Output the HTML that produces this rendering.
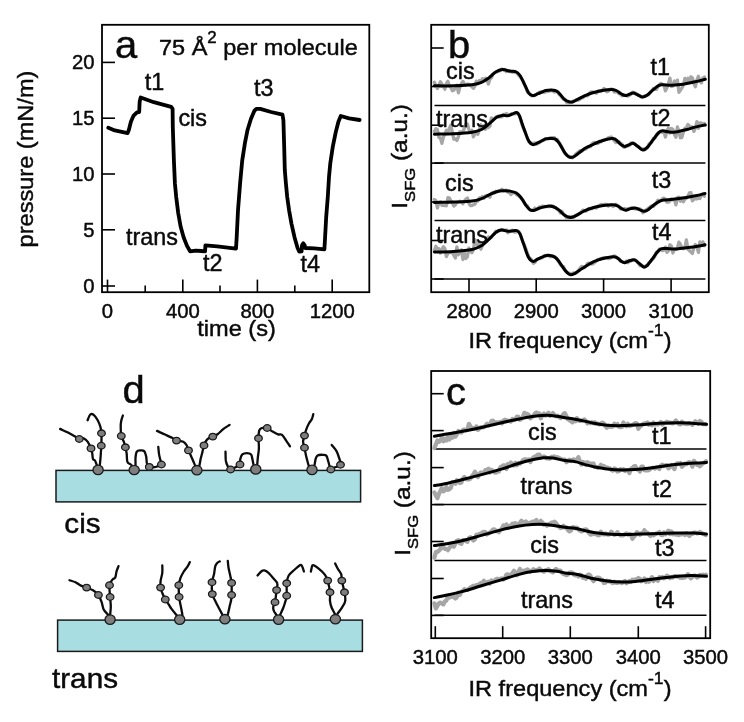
<!DOCTYPE html>
<html><head><meta charset="utf-8"><title>figure</title>
<style>
html,body{margin:0;padding:0;background:#fff;}
svg{display:block;}
text{font-family:"Liberation Sans",sans-serif;fill:#0a0a0a;stroke:#0a0a0a;stroke-width:0.45px;}
.tk{font-size:20.3px;}
.lb{font-size:23.4px;}
.ax{font-size:22.8px;}
.ay{font-size:22.8px;}
.ti{font-size:22.3px;}
.dl{font-size:28px;}
.pn{font-size:38px;}
</style></head>
<body>
<svg width="744" height="722" viewBox="0 0 744 722">
<rect width="744" height="722" fill="#fff"/>
<g id="panel-a">
<rect x="102" y="24.8" width="267.3" height="267.4" fill="none" stroke="#000" stroke-width="1.8"/>
<line x1="102" y1="62.4" x2="115" y2="62.4" stroke="#000" stroke-width="1.6"/>
<text x="94.5" y="69.4" text-anchor="end" class="tk">20</text>
<line x1="102" y1="118.2" x2="115" y2="118.2" stroke="#000" stroke-width="1.6"/>
<text x="94.5" y="125.2" text-anchor="end" class="tk">15</text>
<line x1="102" y1="174" x2="115" y2="174" stroke="#000" stroke-width="1.6"/>
<text x="94.5" y="181.0" text-anchor="end" class="tk">10</text>
<line x1="102" y1="229.8" x2="115" y2="229.8" stroke="#000" stroke-width="1.6"/>
<text x="94.5" y="236.8" text-anchor="end" class="tk">5</text>
<line x1="102" y1="286" x2="115" y2="286" stroke="#000" stroke-width="1.6"/>
<text x="94.5" y="293.0" text-anchor="end" class="tk">0</text>
<line x1="107.5" y1="292.2" x2="107.5" y2="279.6" stroke="#000" stroke-width="1.6"/>
<text x="107.5" y="318" text-anchor="middle" class="tk">0</text>
<line x1="145.2" y1="292.2" x2="145.2" y2="285.5" stroke="#000" stroke-width="1.6"/>
<line x1="182.8" y1="292.2" x2="182.8" y2="279.6" stroke="#000" stroke-width="1.6"/>
<text x="182.8" y="318" text-anchor="middle" class="tk">400</text>
<line x1="220" y1="292.2" x2="220" y2="285.5" stroke="#000" stroke-width="1.6"/>
<line x1="257.4" y1="292.2" x2="257.4" y2="279.6" stroke="#000" stroke-width="1.6"/>
<text x="257.4" y="318" text-anchor="middle" class="tk">800</text>
<line x1="294.8" y1="292.2" x2="294.8" y2="285.5" stroke="#000" stroke-width="1.6"/>
<line x1="332.2" y1="292.2" x2="332.2" y2="279.6" stroke="#000" stroke-width="1.6"/>
<text x="332.2" y="318" text-anchor="middle" class="tk">1200</text>
<text transform="translate(236.5,336.2) scale(1.035,1)" text-anchor="middle" class="ax">time (s)</text>
<text transform="translate(33,159) rotate(-90) scale(1.035,1)" text-anchor="middle" class="ax">pressure (mN/m)</text>
<text transform="translate(115,58) scale(1.05,1)" class="pn">a</text>
<text transform="translate(159,55) scale(1.055,1)" class="ti">75 Å<tspan dy="-12.5" font-size="16">2</tspan><tspan dy="12.5"> per molecule</tspan></text>
<text x="144.8" y="89.6" class="lb">t1</text>
<text x="178.4" y="126" class="lb">cis</text>
<text x="254" y="96" class="lb">t3</text>
<text x="126" y="245" class="lb">trans</text>
<text x="203" y="270.7" class="lb">t2</text>
<text x="300.5" y="272.2" class="lb">t4</text>
<path d="M108.3,127.7 L114.8,130.4 L127.6,133.1 L128.9,129.7 L130.9,121.7 L133.6,115.6 L137,112.3 L139.2,112 L139.4,106.9 L139.7,101.5 L140.7,97.5 L153.8,102.2 L171.2,106.9 L172.6,108.9 L172.8,127 L173.9,160.6 L174.9,183.4 L176.2,196.9 L178.2,213 L180.6,226.5 L183.6,237.2 L187,245.9 L190.1,251.3 L195.7,250.6 L201.1,251 L205.1,251.3 L205.4,245.3 L217.2,246.3 L236,248.6 L236.7,237.2 L238,210.3 L240.1,183.4 L242.2,160.6 L244.9,143.2 L247.6,129.7 L250.9,119 L254.3,110.9 L256.3,108.9 L260.3,108.9 L271.1,112 L282.5,114.7 L283.4,120.3 L284.2,147.2 L284.8,170 L285.9,183.4 L287.2,196.9 L289.1,210.3 L291.5,223.8 L294.5,237.2 L297.6,248 L299.3,251.7 L301.6,251.3 L302,245.3 L303.3,243.3 L304.7,245.3 L305.2,248 L314.4,248.4 L324.4,249.3 L325.1,237.2 L326.2,217 L327.8,196.9 L329,177 L330.3,163.3 L332.7,147.2 L335.7,132.4 L338.4,121.7 L340.8,116 L349.1,118.3 L359.6,120" fill="none" stroke="#000" stroke-width="3.8" stroke-linejoin="round" stroke-linecap="round"/>
</g>
<g id="panel-b">
<rect x="431.2" y="24.8" width="277.6" height="267.4" fill="none" stroke="#000" stroke-width="1.8"/>
<line x1="434.5" y1="105.5" x2="705.4" y2="105.5" stroke="#000" stroke-width="1.5"/>
<line x1="434.5" y1="163.1" x2="705.4" y2="163.1" stroke="#000" stroke-width="1.5"/>
<line x1="434.5" y1="220.6" x2="705.4" y2="220.6" stroke="#000" stroke-width="1.5"/>
<line x1="434.5" y1="279" x2="705.4" y2="279" stroke="#000" stroke-width="1.5"/>
<line x1="431.2" y1="48.0" x2="443.7" y2="48.0" stroke="#000" stroke-width="1.6"/>
<line x1="431.2" y1="86.5" x2="443.7" y2="86.5" stroke="#000" stroke-width="1.6"/>
<line x1="431.2" y1="125.2" x2="443.7" y2="125.2" stroke="#000" stroke-width="1.6"/>
<line x1="431.2" y1="163.1" x2="443.7" y2="163.1" stroke="#000" stroke-width="1.6"/>
<line x1="431.2" y1="202.0" x2="443.7" y2="202.0" stroke="#000" stroke-width="1.6"/>
<line x1="431.2" y1="240.5" x2="443.7" y2="240.5" stroke="#000" stroke-width="1.6"/>
<line x1="431.2" y1="279.0" x2="443.7" y2="279.0" stroke="#000" stroke-width="1.6"/>
<line x1="469" y1="292.2" x2="469" y2="278.8" stroke="#000" stroke-width="1.6"/>
<text x="469" y="317.5" text-anchor="middle" class="tk">2800</text>
<line x1="536.2" y1="292.2" x2="536.2" y2="278.8" stroke="#000" stroke-width="1.6"/>
<text x="536.2" y="317.5" text-anchor="middle" class="tk">2900</text>
<line x1="603.6" y1="292.2" x2="603.6" y2="278.8" stroke="#000" stroke-width="1.6"/>
<text x="603.6" y="317.5" text-anchor="middle" class="tk">3000</text>
<line x1="671.1" y1="292.2" x2="671.1" y2="278.8" stroke="#000" stroke-width="1.6"/>
<text x="671.1" y="317.5" text-anchor="middle" class="tk">3100</text>
<text transform="translate(570,347.7) scale(1.035,1)" text-anchor="middle" class="ax">IR frequency (cm<tspan dy="-11.5" font-size="17">-1</tspan><tspan dy="11.5">)</tspan></text>
<text transform="translate(407.3,156.4) rotate(-90) scale(1.07,1)" text-anchor="middle" class="ay">I<tspan dy="8" font-size="15.5">SFG</tspan><tspan dy="-8"> (a.u.)</tspan></text>
<text transform="translate(448,58) scale(1.05,1)" class="pn">b</text>
<path d="M434.4,82.3 L435.9,85.7 L437.4,88.6 L438.9,85.3 L440.4,81.8 L441.9,84.2 L443.4,86.6 L444.9,89.2 L446.4,83.5 L447.9,81.3 L449.4,86.2 L450.9,87.3 L452.4,90.8 L453.9,90.3 L455.4,87 L456.9,85.3 L458.4,92.8 L459.9,87.1 L461.4,83.7 L462.9,81.4 L464.4,84.1 L465.9,85.1 L467.4,84 L468.9,84.4 L470.4,85.4 L471.9,86.9 L473.4,88.3 L474.9,86 L476.4,81.1 L477.9,83.7 L479.4,80.5 L480.9,81.4 L482.4,78.8 L483.9,79.8 L485.4,78.2 L486.9,78.8 L488.4,84 L489.9,79 L491.4,77.9 L492.9,74.1 L494.4,72.8 L495.9,72.3 L497.4,71.5 L498.9,71.2 L500.4,70.5 L501.9,69 L503.4,70 L504.9,69.5 L506.4,71.7 L507.9,70.8 L509.4,71.6 L510.9,71.5 L512.4,72.3 L513.9,71.5 L515.4,72.6 L516.9,72.7 L518.4,75.1 L519.9,76.4 L521.4,78.6 L522.9,80.7 L524.4,84.7 L525.9,87.8 L527.4,91.9 L528.9,93.2 L530.4,94.7 L531.9,95.8 L533.4,95.7 L534.9,95.1 L536.4,94.5 L537.9,93.4 L539.4,92.2 L540.9,91.8 L542.4,92.1 L543.9,92.5 L545.4,91.8 L546.9,91.7 L548.4,91.3 L549.9,91 L551.4,90.4 L552.9,91 L554.4,92.1 L555.9,91.4 L557.4,91.5 L558.9,94.3 L560.4,95.4 L561.9,97.5 L563.4,99.3 L564.9,99.1 L566.4,102.2 L567.9,103.2 L569.4,102.7 L570.9,102.7 L572.4,102.2 L573.9,100.7 L575.4,100.2 L576.9,100 L578.4,100 L579.9,99.2 L581.4,97.8 L582.9,97.9 L584.4,95.8 L585.9,95.9 L587.4,95.9 L588.9,94.3 L590.4,92.2 L591.9,91.9 L593.4,92.4 L594.9,92.6 L596.4,93.3 L597.9,91.2 L599.4,91 L600.9,91.3 L602.4,90.5 L603.9,88.4 L605.4,90.1 L606.9,91.8 L608.4,91.2 L609.9,89.4 L611.4,89 L612.9,89.8 L614.4,92.1 L615.9,91.6 L617.4,91.8 L618.9,93.7 L620.4,93.7 L621.9,95.8 L623.4,94.8 L624.9,95.1 L626.4,95.7 L627.9,96.1 L629.4,95.3 L630.9,94.4 L632.4,92.1 L633.9,92.4 L635.4,93.1 L636.9,93.9 L638.4,95.4 L639.9,95.6 L641.4,97 L642.9,97 L644.4,96 L645.9,95.6 L647.4,95.3 L648.9,94.4 L650.4,92.1 L651.9,90.7 L653.4,88.4 L654.9,89.3 L656.4,89.4 L657.9,86.7 L659.4,85 L660.9,83.4 L662.4,84.4 L663.9,85 L665.4,90.9 L666.9,87.7 L668.4,83.9 L669.9,78.1 L671.4,86.5 L672.9,86.1 L674.4,81 L675.9,84 L677.4,80.1 L678.9,92.4 L680.4,90.3 L681.9,87.9 L683.4,85 L684.9,78.4 L686.4,81.3 L687.9,78.3 L689.4,82.8 L690.9,76.8 L692.4,77.9 L693.9,83.8 L695.4,86.7 L696.9,79.9 L698.4,76.3 L699.9,81.4 L701.4,82.8 L702.9,78.1 L704.4,77" fill="none" stroke="#a6a6a6" stroke-width="3.3" stroke-linejoin="round" stroke-linecap="round"/>
<path d="M434.4,85.8 C437.5,85.8 447,86 453.3,85.8 C459.6,85.6 467.4,85.3 472.1,84.7 C476.8,84.1 478.7,83.6 481.5,82.4 C484.3,81.2 486.7,79.4 489.1,77.7 C491.5,76 493.5,73.3 495.7,72 C497.9,70.7 499.9,69.8 502.3,69.6 C504.7,69.4 507.5,70.7 509.8,71.1 C512.1,71.5 514.7,71.2 516.4,72 C518.1,72.8 518.8,73.6 520.2,75.8 C521.6,78 523.5,82.4 524.9,85.2 C526.3,88 527.4,91.1 528.6,92.8 C529.9,94.5 530.8,95.4 532.4,95.6 C534,95.8 535.9,94.5 538.1,93.7 C540.3,92.9 543.4,91.1 545.6,90.5 C547.8,89.9 549.7,89.9 551.3,89.9 C552.9,89.9 553.8,90 555,90.5 C556.2,91 557.2,91.3 558.8,92.8 C560.4,94.3 562.7,97.9 564.4,99.4 C566.1,100.9 567.7,101.4 569.1,101.8 C570.5,102.2 571.5,102.2 572.9,101.8 C574.3,101.4 575.6,100.4 577.6,99.4 C579.6,98.4 582.6,96.7 585.1,95.6 C587.6,94.5 589.9,93.6 592.7,92.8 C595.5,92 599,91.1 602.1,90.5 C605.2,89.9 609.1,89.4 611.5,89.4 C613.9,89.4 614.6,89.8 616.2,90.5 C617.8,91.2 619.5,92.9 621,93.7 C622.5,94.5 623.7,95.5 625.1,95.6 C626.5,95.7 628,94.7 629.4,94.3 C630.8,93.9 631.8,93 633.2,93.1 C634.6,93.2 636.3,94.4 637.9,95 C639.5,95.6 641,96.9 642.6,96.9 C644.2,96.9 645.6,96.2 647.3,95 C649,93.8 651.1,91.5 653,89.9 C654.9,88.3 657,86.4 658.6,85.6 C660.2,84.8 660.2,84.9 662.4,84.8 C664.6,84.7 668.3,85.3 671.8,85.2 C675.2,85.1 679.2,84.9 683.1,84.3 C687,83.7 691.3,82.6 695,81.8 C698.7,81 703.6,79.7 705.3,79.3" fill="none" stroke="#000" stroke-width="3.0" stroke-linejoin="round" stroke-linecap="round"/>
<path d="M434.4,131.5 L435.9,128.6 L437.4,129.5 L438.9,137.4 L440.4,137.9 L441.9,143.4 L443.4,136.9 L444.9,134.5 L446.4,130.3 L447.9,132.2 L449.4,128.2 L450.9,124.9 L452.4,133.4 L453.9,139.2 L455.4,138.8 L456.9,140.5 L458.4,136.8 L459.9,131.7 L461.4,132.9 L462.9,131.5 L464.4,128.1 L465.9,124.5 L467.4,124 L468.9,129.5 L470.4,132 L471.9,130.3 L473.4,136.8 L474.9,133.9 L476.4,133.3 L477.9,134.3 L479.4,129.4 L480.9,124.7 L482.4,128.9 L483.9,126.1 L485.4,129.2 L486.9,127.3 L488.4,127.5 L489.9,126.1 L491.4,117.8 L492.9,119.7 L494.4,118.4 L495.9,117 L497.4,116.4 L498.9,116.9 L500.4,116.9 L501.9,116.7 L503.4,114.5 L504.9,114.7 L506.4,113.4 L507.9,114.8 L509.4,115.3 L510.9,114 L512.4,114 L513.9,113.6 L515.4,113.8 L516.9,112.7 L518.4,113.8 L519.9,116.5 L521.4,122.7 L522.9,127.1 L524.4,130.2 L525.9,134.1 L527.4,137.9 L528.9,141.3 L530.4,142.3 L531.9,143.5 L533.4,143.3 L534.9,142.9 L536.4,144.3 L537.9,143.6 L539.4,142.4 L540.9,141.2 L542.4,140.6 L543.9,140.1 L545.4,138.6 L546.9,138.8 L548.4,138.8 L549.9,137.9 L551.4,137.7 L552.9,137.6 L554.4,137.6 L555.9,140.1 L557.4,139.5 L558.9,142 L560.4,144.6 L561.9,147.1 L563.4,150.2 L564.9,153.5 L566.4,154.7 L567.9,156 L569.4,156.4 L570.9,156.7 L572.4,157.8 L573.9,156.4 L575.4,154.5 L576.9,153.1 L578.4,152 L579.9,150.6 L581.4,151.4 L582.9,150.4 L584.4,148.8 L585.9,149.1 L587.4,147.1 L588.9,147 L590.4,146.6 L591.9,144 L593.4,142.7 L594.9,142.4 L596.4,143.4 L597.9,143.6 L599.4,141.3 L600.9,141.9 L602.4,140.6 L603.9,140 L605.4,139.4 L606.9,139.2 L608.4,137.6 L609.9,137.5 L611.4,137 L612.9,138.7 L614.4,140.8 L615.9,142.6 L617.4,142 L618.9,141.5 L620.4,143.3 L621.9,144 L623.4,147.1 L624.9,147.3 L626.4,145.5 L627.9,145.9 L629.4,145.3 L630.9,143 L632.4,142.8 L633.9,143.3 L635.4,144.6 L636.9,145.9 L638.4,146.6 L639.9,148 L641.4,148.6 L642.9,148.9 L644.4,149.9 L645.9,148.8 L647.4,147.8 L648.9,144.2 L650.4,142.8 L651.9,141.8 L653.4,138.5 L654.9,138 L656.4,135.2 L657.9,134 L659.4,132.3 L660.9,131.8 L662.4,132.4 L663.9,131.1 L665.4,137 L666.9,130.7 L668.4,128.1 L669.9,133.1 L671.4,128.5 L672.9,129.4 L674.4,134.4 L675.9,137.2 L677.4,127 L678.9,131.5 L680.4,137.9 L681.9,137.4 L683.4,131.8 L684.9,128.3 L686.4,127.9 L687.9,124.4 L689.4,126.1 L690.9,126.7 L692.4,126.8 L693.9,131.4 L695.4,127.6 L696.9,121.6 L698.4,128.4 L699.9,122.9 L701.4,123 L702.9,124 L704.4,123.4" fill="none" stroke="#a6a6a6" stroke-width="3.3" stroke-linejoin="round" stroke-linecap="round"/>
<path d="M434.4,134.2 C437.5,134.1 447,134.1 453.3,133.8 C459.6,133.5 467.4,133 472.1,132.3 C476.8,131.6 478.7,130.9 481.5,129.5 C484.3,128.1 486.6,125.9 489.1,123.9 C491.6,121.9 494.4,118.7 496.6,117.3 C498.8,115.9 500.4,115.7 502.3,115.4 C504.2,115.1 506.2,116 507.9,115.7 C509.6,115.5 511.2,114.4 512.6,113.9 C514,113.4 515.3,112.2 516.4,112.5 C517.5,112.8 518,112.7 519.2,115.4 C520.5,118.1 522.3,124.4 523.9,128.6 C525.5,132.8 527.1,138.1 528.6,140.8 C530.1,143.5 531.2,144.3 532.8,144.6 C534.4,144.9 536,143.6 538.1,142.7 C540.2,141.8 543.6,139.6 545.6,138.9 C547.6,138.2 548.7,138.4 550.3,138.4 C551.9,138.4 553.6,138.2 555,138.9 C556.4,139.6 557.2,140.5 558.8,142.7 C560.4,144.9 562.8,149.8 564.4,152.1 C566,154.4 567.2,156 568.6,156.8 C570,157.7 571.4,157.7 572.9,157.2 C574.4,156.7 575.6,155.5 577.6,154 C579.6,152.5 582.6,149.9 585.1,148.3 C587.6,146.7 589.9,145.8 592.7,144.6 C595.5,143.3 599,141.8 602.1,140.8 C605.2,139.8 609.3,138.8 611.5,138.5 C613.7,138.2 613.7,138.3 615.3,139.3 C616.9,140.3 619.4,143.4 621,144.6 C622.6,145.8 623.3,146.5 624.7,146.5 C626.1,146.5 628,145.1 629.4,144.6 C630.8,144.1 631.8,143 633.2,143.3 C634.6,143.6 636.3,145.4 637.9,146.5 C639.5,147.6 641,149.8 642.6,149.9 C644.2,150.1 645.6,149.1 647.3,147.4 C649,145.7 651.1,142.4 653,139.9 C654.9,137.4 657,134.2 658.6,132.7 C660.2,131.2 660.8,131 662.4,130.8 C664,130.7 665.9,131.6 668.1,131.8 C670.3,132 672.5,132.4 675.6,132 C678.7,131.6 683.7,130.3 686.9,129.5 C690.1,128.7 691.9,127.8 695,127.1 C698.1,126.3 703.6,125.3 705.3,125" fill="none" stroke="#000" stroke-width="3.0" stroke-linejoin="round" stroke-linecap="round"/>
<path d="M434.4,199.5 L435.9,200.6 L437.4,208 L438.9,202.5 L440.4,202 L441.9,205.4 L443.4,205.4 L444.9,205.5 L446.4,205.8 L447.9,197.7 L449.4,198.1 L450.9,201 L452.4,203.1 L453.9,206.1 L455.4,204.7 L456.9,202.1 L458.4,202 L459.9,201.2 L461.4,202.1 L462.9,203.7 L464.4,201.2 L465.9,199 L467.4,198 L468.9,203.3 L470.4,205.6 L471.9,205.5 L473.4,204.8 L474.9,204.2 L476.4,201.3 L477.9,201.2 L479.4,197.8 L480.9,197.9 L482.4,196.6 L483.9,198.2 L485.4,195.9 L486.9,195.5 L488.4,195.8 L489.9,197.2 L491.4,193.4 L492.9,192.3 L494.4,193 L495.9,191.2 L497.4,191.7 L498.9,190.9 L500.4,190.8 L501.9,189.2 L503.4,190.8 L504.9,190.4 L506.4,190.1 L507.9,192.4 L509.4,192.1 L510.9,194.6 L512.4,193.3 L513.9,192.5 L515.4,192.9 L516.9,194.9 L518.4,195.5 L519.9,197 L521.4,198.8 L522.9,200 L524.4,202.9 L525.9,204.9 L527.4,205.8 L528.9,208.9 L530.4,210.3 L531.9,210.4 L533.4,209.8 L534.9,208 L536.4,209.1 L537.9,208.6 L539.4,206.8 L540.9,207.2 L542.4,206 L543.9,206.5 L545.4,206.6 L546.9,206.6 L548.4,206.5 L549.9,206.6 L551.4,205.7 L552.9,206.1 L554.4,206.8 L555.9,207.9 L557.4,209.2 L558.9,210.5 L560.4,212.9 L561.9,211.2 L563.4,213.9 L564.9,215.3 L566.4,217.9 L567.9,218.1 L569.4,216.5 L570.9,217.4 L572.4,216.5 L573.9,217.2 L575.4,215.4 L576.9,214.8 L578.4,214.1 L579.9,213.3 L581.4,212.1 L582.9,210.1 L584.4,210.7 L585.9,211.1 L587.4,210 L588.9,208.5 L590.4,208.6 L591.9,208.6 L593.4,207.7 L594.9,207.3 L596.4,208.1 L597.9,206.2 L599.4,205.8 L600.9,204.3 L602.4,204.6 L603.9,204.5 L605.4,204.3 L606.9,204.3 L608.4,206.2 L609.9,205.2 L611.4,204.8 L612.9,206.5 L614.4,205.7 L615.9,204.2 L617.4,205.7 L618.9,206 L620.4,208.9 L621.9,208.2 L623.4,208.8 L624.9,208.4 L626.4,209.7 L627.9,208.6 L629.4,208.6 L630.9,208.1 L632.4,207.7 L633.9,208.7 L635.4,209 L636.9,209 L638.4,208.7 L639.9,208.8 L641.4,210.2 L642.9,212.7 L644.4,211.5 L645.9,210 L647.4,209.1 L648.9,207.9 L650.4,206.6 L651.9,206 L653.4,206.3 L654.9,204.6 L656.4,202.8 L657.9,200.1 L659.4,200.9 L660.9,200.6 L662.4,198.8 L663.9,198.1 L665.4,199.1 L666.9,202.2 L668.4,202.2 L669.9,200.9 L671.4,199 L672.9,199.9 L674.4,199.2 L675.9,204.8 L677.4,197.6 L678.9,197.1 L680.4,201.2 L681.9,198.3 L683.4,201.8 L684.9,198.9 L686.4,198.2 L687.9,196.4 L689.4,192.9 L690.9,192.6 L692.4,200.9 L693.9,199.4 L695.4,198.6 L696.9,199 L698.4,197.9 L699.9,198.5 L701.4,195 L702.9,193.6 L704.4,196.2" fill="none" stroke="#a6a6a6" stroke-width="3.3" stroke-linejoin="round" stroke-linecap="round"/>
<path d="M434.4,202.4 C437.5,202.3 447,202.2 453.3,202 C459.6,201.8 467.4,201.7 472.1,201.1 C476.8,200.5 478.7,199.6 481.5,198.6 C484.3,197.6 486.6,196.1 489.1,194.9 C491.6,193.8 494.4,192.4 496.6,191.7 C498.8,191 500.1,190.8 502.3,190.7 C504.5,190.6 507.5,190.7 509.8,191.1 C512.1,191.5 514.5,191.9 516.4,193 C518.3,194.1 519.5,195.7 521.1,197.7 C522.7,199.7 524.4,203.2 525.8,205.2 C527.2,207.1 528.4,208.5 529.6,209.4 C530.9,210.3 531.6,210.7 533.3,210.5 C535,210.3 537.5,208.7 539.9,208 C542.3,207.3 545.3,206.4 547.5,206.2 C549.7,206 551.2,206.1 553.1,206.7 C555,207.3 556.8,208.4 558.8,209.9 C560.8,211.4 563.1,214.3 565,215.6 C566.9,216.9 568.3,217.5 570,217.6 C571.7,217.7 572.6,217.3 575,216.2 C577.4,215.1 581.3,212.3 584.4,210.9 C587.5,209.5 590.6,208.4 593.8,207.5 C596.9,206.6 600.1,206.1 603.3,205.6 C606.4,205.1 610.4,204.7 612.7,204.7 C615.1,204.7 615.8,205.1 617.4,205.8 C619,206.5 620.7,208.2 622.1,209 C623.5,209.8 624.5,210.4 625.9,210.3 C627.3,210.2 629,209 630.6,208.6 C632.2,208.2 633.7,207.8 635.3,208 C636.9,208.2 638.5,209.3 640,209.9 C641.5,210.5 642.9,211.4 644.3,211.3 C645.7,211.2 646.9,210.5 648.5,209.4 C650.1,208.3 652.2,206.2 654.1,204.8 C656,203.4 658.2,201.9 659.8,201.1 C661.4,200.3 661.4,200.4 663.6,200.1 C665.8,199.8 669.5,199.6 673,199.2 C676.5,198.8 680.5,198.3 684.3,197.7 C688.1,197.1 692.1,196.5 695.6,195.8 C699.1,195.1 703.4,193.9 705,193.5" fill="none" stroke="#000" stroke-width="3.0" stroke-linejoin="round" stroke-linecap="round"/>
<path d="M434.4,250.6 L435.9,246.3 L437.4,249 L438.9,248.7 L440.4,253.1 L441.9,249.4 L443.4,246.8 L444.9,248.6 L446.4,256.6 L447.9,253.1 L449.4,252.7 L450.9,251.9 L452.4,252.7 L453.9,255.4 L455.4,258 L456.9,247 L458.4,254.8 L459.9,252.1 L461.4,249.8 L462.9,259.5 L464.4,252.8 L465.9,258.6 L467.4,256.7 L468.9,248.2 L470.4,251 L471.9,252.8 L473.4,249.7 L474.9,239.6 L476.4,243.8 L477.9,245.3 L479.4,243.2 L480.9,249.2 L482.4,245.5 L483.9,242.9 L485.4,241.3 L486.9,238.8 L488.4,237 L489.9,237.6 L491.4,237.3 L492.9,235.1 L494.4,233.6 L495.9,231.2 L497.4,231.8 L498.9,230.5 L500.4,230.4 L501.9,229.5 L503.4,229.8 L504.9,230.6 L506.4,229.9 L507.9,232.8 L509.4,231.6 L510.9,231.1 L512.4,230.3 L513.9,231.8 L515.4,232.2 L516.9,231.5 L518.4,231.3 L519.9,233.3 L521.4,238 L522.9,241.7 L524.4,245.1 L525.9,249 L527.4,253.4 L528.9,257.2 L530.4,258.4 L531.9,260.3 L533.4,263.3 L534.9,262.6 L536.4,259.6 L537.9,259.2 L539.4,258.5 L540.9,257.6 L542.4,257.9 L543.9,256.4 L545.4,255.5 L546.9,255.3 L548.4,255.5 L549.9,256.7 L551.4,256.7 L552.9,255.9 L554.4,256.9 L555.9,257.5 L557.4,260 L558.9,262 L560.4,264.6 L561.9,266.1 L563.4,266.5 L564.9,269.9 L566.4,271.6 L567.9,273.2 L569.4,273.2 L570.9,274.1 L572.4,273.4 L573.9,272.9 L575.4,273.1 L576.9,272.4 L578.4,270.5 L579.9,268.5 L581.4,266.5 L582.9,266.7 L584.4,267.6 L585.9,266.3 L587.4,263.5 L588.9,263 L590.4,263.3 L591.9,264.1 L593.4,263.5 L594.9,262.2 L596.4,261.2 L597.9,259.4 L599.4,259.1 L600.9,258.7 L602.4,258 L603.9,258.1 L605.4,257.6 L606.9,257.8 L608.4,258.6 L609.9,258.2 L611.4,257.6 L612.9,256.8 L614.4,255.8 L615.9,256.8 L617.4,258.4 L618.9,258.6 L620.4,261.3 L621.9,261.5 L623.4,262.4 L624.9,262.5 L626.4,261 L627.9,262.8 L629.4,260.4 L630.9,261.1 L632.4,260 L633.9,260.1 L635.4,260 L636.9,261.2 L638.4,263.3 L639.9,265.7 L641.4,265 L642.9,266.3 L644.4,267.5 L645.9,265.7 L647.4,265.6 L648.9,262.8 L650.4,261.7 L651.9,259.9 L653.4,258.6 L654.9,256.1 L656.4,252.1 L657.9,251.8 L659.4,249 L660.9,249.7 L662.4,250.7 L663.9,250.1 L665.4,247.1 L666.9,252.4 L668.4,250.6 L669.9,244.8 L671.4,246.1 L672.9,253 L674.4,249.2 L675.9,249.4 L677.4,247.8 L678.9,242.1 L680.4,244.3 L681.9,248.2 L683.4,248.8 L684.9,247.6 L686.4,239.9 L687.9,249.3 L689.4,250.6 L690.9,252.1 L692.4,253.4 L693.9,247.4 L695.4,244.6 L696.9,246.8 L698.4,252.4 L699.9,241.9 L701.4,243.3 L702.9,241.8 L704.4,245.8" fill="none" stroke="#a6a6a6" stroke-width="3.3" stroke-linejoin="round" stroke-linecap="round"/>
<path d="M434.4,252 C437.5,251.9 447,251.8 453.3,251.4 C459.6,251 467.4,250.4 472.1,249.5 C476.8,248.6 478.7,247.4 481.5,245.7 C484.3,244 486.7,241.3 489.1,239.1 C491.5,236.9 493.7,234 495.7,232.5 C497.7,231 499.3,230.3 501.3,230.1 C503.3,229.9 505.8,231.1 507.9,231.2 C509.9,231.3 512,230.8 513.6,230.7 C515.2,230.6 516.2,230.1 517.3,230.7 C518.4,231.3 519.1,232.1 520.2,234.4 C521.3,236.8 522.5,241 523.9,244.8 C525.2,248.6 526.8,254.2 528.3,257 C529.8,259.8 531.2,261.1 532.8,261.4 C534.4,261.7 536,259.8 538.1,258.9 C540.2,257.9 543.4,256.2 545.6,255.7 C547.8,255.2 549.4,255.2 551.3,255.7 C553.2,256.2 554.6,256.5 556.9,258.9 C559.2,261.3 562.8,267.6 565,270.2 C567.2,272.8 568.3,274.1 570,274.6 C571.7,275.1 572.9,274.4 575,273.4 C577.1,272.3 580,269.9 582.5,268.3 C585,266.7 587.6,265 590.1,263.6 C592.6,262.2 595.1,261.1 597.6,260.2 C600.1,259.3 602.6,258.6 605.1,258 C607.6,257.4 610.8,256.8 612.7,256.7 C614.6,256.6 615.1,256.6 616.5,257.4 C617.9,258.1 619.8,260.3 621.2,261.2 C622.6,262.1 623.5,262.8 624.9,262.7 C626.3,262.6 628,261.3 629.6,260.8 C631.2,260.3 632.8,259.5 634.4,259.9 C636,260.3 637.5,262.1 639.1,263.3 C640.7,264.5 642.4,266.7 643.8,267 C645.2,267.3 646.1,266.5 647.5,265.1 C648.9,263.8 650.6,261.2 652.3,258.9 C654,256.6 656.3,253.1 657.9,251.4 C659.5,249.7 660.1,249.1 661.7,248.6 C663.3,248.1 664.8,248.5 667.3,248.6 C669.8,248.7 673.3,249.1 676.8,248.9 C680.3,248.7 684.6,248 688.1,247.6 C691.6,247.2 694.7,246.8 697.5,246.3 C700.3,245.8 703.8,245.1 705,244.8" fill="none" stroke="#000" stroke-width="3.0" stroke-linejoin="round" stroke-linecap="round"/>
<text x="446" y="78.6" class="lb">cis</text>
<text x="436" y="127" class="lb">trans</text>
<text x="445" y="191.1" class="lb">cis</text>
<text x="436" y="242.5" class="lb">trans</text>
<text x="650.6" y="74.9" class="lb">t1</text>
<text x="651" y="125.7" class="lb">t2</text>
<text x="651.8" y="187.9" class="lb">t3</text>
<text x="652.1" y="240.1" class="lb">t4</text>
</g>
<g id="panel-c">
<rect x="431.2" y="371" width="279.0" height="267.2" fill="none" stroke="#000" stroke-width="1.8"/>
<line x1="434.5" y1="449.1" x2="706.5" y2="449.1" stroke="#000" stroke-width="1.5"/>
<line x1="434.5" y1="504.4" x2="706.5" y2="504.4" stroke="#000" stroke-width="1.5"/>
<line x1="434.5" y1="560.4" x2="706.5" y2="560.4" stroke="#000" stroke-width="1.5"/>
<line x1="434.5" y1="615.2" x2="706.5" y2="615.2" stroke="#000" stroke-width="1.5"/>
<line x1="431.2" y1="393.7" x2="443.7" y2="393.7" stroke="#000" stroke-width="1.6"/>
<line x1="431.2" y1="430.6" x2="443.7" y2="430.6" stroke="#000" stroke-width="1.6"/>
<line x1="431.2" y1="467.6" x2="443.7" y2="467.6" stroke="#000" stroke-width="1.6"/>
<line x1="431.2" y1="504.6" x2="443.7" y2="504.6" stroke="#000" stroke-width="1.6"/>
<line x1="431.2" y1="541.5" x2="443.7" y2="541.5" stroke="#000" stroke-width="1.6"/>
<line x1="431.2" y1="578.5" x2="443.7" y2="578.5" stroke="#000" stroke-width="1.6"/>
<line x1="431.2" y1="615.4" x2="443.7" y2="615.4" stroke="#000" stroke-width="1.6"/>
<line x1="435.3" y1="638.2" x2="435.3" y2="626.2" stroke="#000" stroke-width="1.6"/>
<text x="435.3" y="664" text-anchor="middle" class="tk">3100</text>
<line x1="502.7" y1="638.2" x2="502.7" y2="626.2" stroke="#000" stroke-width="1.6"/>
<text x="502.7" y="664" text-anchor="middle" class="tk">3200</text>
<line x1="570.3" y1="638.2" x2="570.3" y2="626.2" stroke="#000" stroke-width="1.6"/>
<text x="570.3" y="664" text-anchor="middle" class="tk">3300</text>
<line x1="638.3" y1="638.2" x2="638.3" y2="626.2" stroke="#000" stroke-width="1.6"/>
<text x="638.3" y="664" text-anchor="middle" class="tk">3400</text>
<line x1="705.6" y1="638.2" x2="705.6" y2="626.2" stroke="#000" stroke-width="1.6"/>
<text x="705.6" y="664" text-anchor="middle" class="tk">3500</text>
<text transform="translate(570,695.6) scale(1.035,1)" text-anchor="middle" class="ax">IR frequency (cm<tspan dy="-11.5" font-size="17">-1</tspan><tspan dy="11.5">)</tspan></text>
<text transform="translate(410.2,503.5) rotate(-90) scale(1.07,1)" text-anchor="middle" class="ay">I<tspan dy="8" font-size="15.5">SFG</tspan><tspan dy="-8"> (a.u.)</tspan></text>
<text transform="translate(446,404.5) scale(1.05,1)" class="pn">c</text>
<path d="M434.4,448 L435.9,444.4 L437.4,440.5 L438.9,441.8 L440.4,441 L441.9,437.3 L443.4,441.3 L444.9,438.9 L446.4,440.5 L447.9,435.9 L449.4,439.5 L450.9,435.2 L452.4,437.7 L453.9,433 L455.4,436.7 L456.9,434.4 L458.4,431 L459.9,431.8 L461.4,432.6 L462.9,430.1 L464.4,429.6 L465.9,430.5 L467.4,429.7 L468.9,423.8 L470.4,426.3 L471.9,428.1 L473.4,428.2 L474.9,428.9 L476.4,426.4 L477.9,429.9 L479.4,428.5 L480.9,427.1 L482.4,427.5 L483.9,427.2 L485.4,425.6 L486.9,423.8 L488.4,425.3 L489.9,424.8 L491.4,421 L492.9,420.6 L494.4,422.5 L495.9,422.4 L497.4,422.4 L498.9,422.6 L500.4,421.8 L501.9,423.4 L503.4,420.6 L504.9,419.7 L506.4,420.2 L507.9,420.8 L509.4,420.8 L510.9,421.6 L512.4,418.9 L513.9,420.1 L515.4,419.3 L516.9,416.6 L518.4,416.8 L519.9,419.9 L521.4,418.9 L522.9,416.6 L524.4,412.8 L525.9,413.7 L527.4,413.9 L528.9,414.9 L530.4,418.3 L531.9,417.1 L533.4,415.9 L534.9,413.5 L536.4,412.4 L537.9,413.4 L539.4,413.3 L540.9,418.3 L542.4,415.1 L543.9,413.6 L545.4,415.6 L546.9,414.8 L548.4,412.7 L549.9,415.9 L551.4,414.8 L552.9,413.1 L554.4,415.1 L555.9,416.2 L557.4,415.6 L558.9,417.1 L560.4,418.1 L561.9,416.2 L563.4,414.1 L564.9,413.1 L566.4,416.1 L567.9,419.3 L569.4,420.2 L570.9,421.2 L572.4,422.4 L573.9,420.3 L575.4,421.3 L576.9,418.1 L578.4,420.4 L579.9,420.9 L581.4,420.6 L582.9,420.2 L584.4,419.3 L585.9,421 L587.4,423.5 L588.9,422.2 L590.4,423.3 L591.9,422.2 L593.4,423.3 L594.9,422.1 L596.4,423.7 L597.9,423.6 L599.4,424.5 L600.9,423.6 L602.4,422.6 L603.9,423.6 L605.4,426.1 L606.9,427.8 L608.4,425.7 L609.9,426.6 L611.4,426.9 L612.9,426.5 L614.4,423.6 L615.9,425.3 L617.4,424 L618.9,426.7 L620.4,427.1 L621.9,427 L623.4,422.4 L624.9,425.3 L626.4,426.3 L627.9,423.8 L629.4,426.1 L630.9,425.6 L632.4,425 L633.9,424 L635.4,423.1 L636.9,423.6 L638.4,428.8 L639.9,426.4 L641.4,425.6 L642.9,423.9 L644.4,423.3 L645.9,423.1 L647.4,422.4 L648.9,424.8 L650.4,423.8 L651.9,425.2 L653.4,422.5 L654.9,424.6 L656.4,423.8 L657.9,424.6 L659.4,423.6 L660.9,422 L662.4,424.6 L663.9,423 L665.4,422.9 L666.9,421.7 L668.4,422.9 L669.9,422.4 L671.4,423.2 L672.9,423.5 L674.4,422.1 L675.9,420.4 L677.4,422.6 L678.9,424.1 L680.4,424.4 L681.9,421.7 L683.4,423.5 L684.9,423.8 L686.4,423.8 L687.9,424.1 L689.4,423 L690.9,423.5 L692.4,424.9 L693.9,423.2 L695.4,421.3 L696.9,422.7 L698.4,423.7 L699.9,421 L701.4,421.9 L702.9,424.2 L704.4,424 L705.9,424.3" fill="none" stroke="#a6a6a6" stroke-width="4.2" stroke-linejoin="round" stroke-linecap="round"/>
<path d="M434.4,436.2 C436,435.9 439.1,435.4 443.8,434.6 C448.5,433.8 456.4,432.5 462.7,431.3 C469,430.1 475.2,428.9 481.5,427.5 C487.8,426.1 494.1,424.4 500.4,423 C506.7,421.6 513.6,420.1 519.2,419 C524.9,417.9 529.6,416.9 534.3,416.3 C539,415.7 543.7,415.2 547.5,415.2 C551.3,415.2 554,415.8 556.9,416.2 C559.8,416.6 562,417.2 565,417.7 C568,418.2 571.8,418.6 575,419.2 C578.2,419.8 581.3,420.4 584.4,421.1 C587.5,421.8 590,422.6 593.8,423.3 C597.6,424 602.3,424.8 607,425.2 C611.7,425.6 616.4,425.7 622.1,425.6 C627.8,425.5 634.7,425.1 641,424.7 C647.3,424.3 653.5,423.6 659.8,423.3 C666.1,423 673.3,422.8 678.6,422.8 C683.9,422.8 687.1,423.1 691.8,423.3 C696.4,423.6 704,424.1 706.5,424.3" fill="none" stroke="#000" stroke-width="3.0" stroke-linejoin="round" stroke-linecap="round"/>
<path d="M434.4,492.4 L435.9,495.6 L437.4,498.2 L438.9,494 L440.4,490.8 L441.9,488.1 L443.4,491.4 L444.9,490.1 L446.4,487 L447.9,489.9 L449.4,489.3 L450.9,487.8 L452.4,482.4 L453.9,482.9 L455.4,483.8 L456.9,480.1 L458.4,482.1 L459.9,483.1 L461.4,482.5 L462.9,478.7 L464.4,477 L465.9,479 L467.4,479.4 L468.9,479.5 L470.4,478.7 L471.9,476.1 L473.4,474.6 L474.9,471.7 L476.4,474.3 L477.9,477.1 L479.4,473.8 L480.9,472.4 L482.4,473.3 L483.9,472.9 L485.4,470 L486.9,469.7 L488.4,468.8 L489.9,472.6 L491.4,469.8 L492.9,470.8 L494.4,472.4 L495.9,472.7 L497.4,471.8 L498.9,471.5 L500.4,467.1 L501.9,466.4 L503.4,465.3 L504.9,465.3 L506.4,469.1 L507.9,464 L509.4,465.1 L510.9,462.5 L512.4,465.1 L513.9,465.6 L515.4,462.8 L516.9,465.3 L518.4,462.9 L519.9,463.6 L521.4,462.2 L522.9,460.1 L524.4,459.4 L525.9,459.3 L527.4,460.1 L528.9,459.4 L530.4,462.1 L531.9,459.1 L533.4,457.5 L534.9,456.4 L536.4,455.9 L537.9,454.6 L539.4,454.7 L540.9,457.3 L542.4,456.9 L543.9,456.4 L545.4,457.1 L546.9,458.5 L548.4,458.4 L549.9,458.7 L551.4,456.9 L552.9,456.8 L554.4,456.4 L555.9,457.5 L557.4,457.1 L558.9,457.9 L560.4,458.7 L561.9,459.2 L563.4,459.6 L564.9,459.7 L566.4,462.3 L567.9,460.9 L569.4,459.6 L570.9,461 L572.4,459.7 L573.9,459.4 L575.4,461.1 L576.9,459.5 L578.4,457.1 L579.9,461.5 L581.4,464.5 L582.9,461.9 L584.4,462.4 L585.9,464.9 L587.4,462.3 L588.9,463.3 L590.4,463.3 L591.9,465.1 L593.4,463.4 L594.9,467 L596.4,467 L597.9,467.8 L599.4,467.3 L600.9,464.7 L602.4,466.8 L603.9,466 L605.4,467.8 L606.9,467.4 L608.4,468 L609.9,468.4 L611.4,470.1 L612.9,470.7 L614.4,468.4 L615.9,469.1 L617.4,471.6 L618.9,471.1 L620.4,469.2 L621.9,469.5 L623.4,469.2 L624.9,471 L626.4,470.2 L627.9,470.4 L629.4,473.1 L630.9,468.8 L632.4,467.9 L633.9,466.4 L635.4,466.1 L636.9,469.4 L638.4,469.6 L639.9,471.5 L641.4,466.7 L642.9,466.6 L644.4,470.1 L645.9,470.5 L647.4,470.4 L648.9,470.2 L650.4,468.8 L651.9,468 L653.4,467.7 L654.9,468.6 L656.4,467.3 L657.9,467.4 L659.4,469 L660.9,465.5 L662.4,464.7 L663.9,466.3 L665.4,465.4 L666.9,465.2 L668.4,468.4 L669.9,466.9 L671.4,464.9 L672.9,466.5 L674.4,469.1 L675.9,464.3 L677.4,463.2 L678.9,463.9 L680.4,462.9 L681.9,466.8 L683.4,465.5 L684.9,463.6 L686.4,464.3 L687.9,462.5 L689.4,462.1 L690.9,462.9 L692.4,466.7 L693.9,460.8 L695.4,462.8 L696.9,464.9 L698.4,464.6 L699.9,466.3 L701.4,464.6 L702.9,463.5 L704.4,462.7 L705.9,461.3" fill="none" stroke="#a6a6a6" stroke-width="4.2" stroke-linejoin="round" stroke-linecap="round"/>
<path d="M434.4,485.5 C436,485.2 439.1,485 443.8,484 C448.5,483 456.4,481.1 462.7,479.5 C469,477.9 475.2,476.3 481.5,474.6 C487.8,472.9 494.1,471.3 500.4,469.4 C506.7,467.5 513.9,464.9 519.2,463.3 C524.5,461.7 528.3,460.7 532.4,459.8 C536.5,458.9 540.2,458.1 543.7,457.8 C547.2,457.5 549.6,457.5 553.1,458 C556.6,458.5 561.4,460 565,460.6 C568.6,461.2 571.8,461 575,461.6 C578.2,462.2 581.3,463.5 584.4,464.4 C587.5,465.2 590,465.9 593.8,466.7 C597.6,467.4 602.3,468.4 607,468.9 C611.7,469.4 617.4,469.8 622.1,469.9 C626.8,470 630.6,469.8 635.3,469.5 C640,469.2 645.4,468.6 650.4,468 C655.4,467.4 660.4,466.4 665.4,465.7 C670.4,465 675.5,464.4 680.5,463.9 C685.5,463.4 691.3,463.1 695.6,462.9 C699.9,462.7 704.7,462.6 706.5,462.5" fill="none" stroke="#000" stroke-width="3.0" stroke-linejoin="round" stroke-linecap="round"/>
<path d="M434.4,557.8 L435.9,551.9 L437.4,552 L438.9,550.6 L440.4,549.2 L441.9,544.9 L443.4,547.3 L444.9,548.9 L446.4,549 L447.9,550.2 L449.4,547.8 L450.9,545.7 L452.4,546.2 L453.9,546.6 L455.4,543.4 L456.9,540.7 L458.4,540.2 L459.9,543.3 L461.4,543.9 L462.9,540.2 L464.4,540.1 L465.9,541 L467.4,541.8 L468.9,538.1 L470.4,537.2 L471.9,538.9 L473.4,540.5 L474.9,539.4 L476.4,534.7 L477.9,535.1 L479.4,533.9 L480.9,533.6 L482.4,532.3 L483.9,531.9 L485.4,532.1 L486.9,534.5 L488.4,533.5 L489.9,532.5 L491.4,531.3 L492.9,529.5 L494.4,529.3 L495.9,531.1 L497.4,530.9 L498.9,532.2 L500.4,529.9 L501.9,528.5 L503.4,525.5 L504.9,527.1 L506.4,524.4 L507.9,528 L509.4,525.9 L510.9,525.9 L512.4,523.7 L513.9,523.9 L515.4,523.2 L516.9,525.7 L518.4,525.1 L519.9,522.7 L521.4,520.7 L522.9,522.5 L524.4,522.5 L525.9,521.4 L527.4,523.4 L528.9,522.9 L530.4,523 L531.9,521.9 L533.4,521.6 L534.9,521.6 L536.4,520.1 L537.9,522.8 L539.4,523.5 L540.9,520.8 L542.4,522.5 L543.9,524.7 L545.4,524.2 L546.9,525.7 L548.4,524.2 L549.9,524.3 L551.4,522.6 L552.9,522.8 L554.4,521.7 L555.9,522.9 L557.4,525.1 L558.9,526.5 L560.4,528.2 L561.9,527.5 L563.4,525.8 L564.9,527.5 L566.4,527.3 L567.9,530.1 L569.4,531.4 L570.9,530.6 L572.4,527.3 L573.9,527.2 L575.4,528.3 L576.9,527.7 L578.4,529.5 L579.9,530.6 L581.4,531.4 L582.9,531 L584.4,529.5 L585.9,529.3 L587.4,530.4 L588.9,533.1 L590.4,534.6 L591.9,534.4 L593.4,533.7 L594.9,534 L596.4,534.4 L597.9,535.3 L599.4,535.1 L600.9,531.7 L602.4,534.2 L603.9,534.4 L605.4,533.4 L606.9,534.5 L608.4,534.6 L609.9,534.2 L611.4,531.7 L612.9,533.5 L614.4,534.8 L615.9,534.4 L617.4,532.1 L618.9,534.2 L620.4,535.4 L621.9,535.1 L623.4,535.3 L624.9,534.2 L626.4,533.3 L627.9,534.7 L629.4,533.9 L630.9,534.4 L632.4,538.9 L633.9,536.8 L635.4,535.2 L636.9,532.1 L638.4,533.4 L639.9,534.8 L641.4,533.1 L642.9,533.2 L644.4,530.1 L645.9,533.3 L647.4,532.7 L648.9,534.4 L650.4,536 L651.9,534.2 L653.4,535.3 L654.9,534.5 L656.4,533.5 L657.9,533 L659.4,532 L660.9,534.8 L662.4,535.2 L663.9,532.4 L665.4,534.3 L666.9,532.5 L668.4,530.6 L669.9,534.1 L671.4,531.5 L672.9,534.4 L674.4,533.8 L675.9,534.7 L677.4,534.4 L678.9,535.2 L680.4,534.3 L681.9,534.3 L683.4,533.9 L684.9,535 L686.4,533.1 L687.9,534.6 L689.4,535.9 L690.9,533.9 L692.4,534 L693.9,532.6 L695.4,532.5 L696.9,533.4 L698.4,532.9 L699.9,531.9 L701.4,533 L702.9,533.7 L704.4,534.3 L705.9,535.1" fill="none" stroke="#a6a6a6" stroke-width="4.2" stroke-linejoin="round" stroke-linecap="round"/>
<path d="M434.4,545.6 C436,545.4 439.1,545.1 443.8,544.3 C448.5,543.4 456.4,542 462.7,540.5 C469,539 475.2,537.1 481.5,535.4 C487.8,533.7 494.1,531.7 500.4,530.1 C506.7,528.5 513.9,526.9 519.2,526 C524.5,525.1 528,524.8 532.4,524.5 C536.8,524.2 541.5,524.2 545.6,524.5 C549.7,524.8 553.7,525.5 556.9,526 C560.1,526.5 562,526.9 565,527.3 C568,527.7 571.8,527.8 575,528.3 C578.2,528.8 581.3,529.8 584.4,530.5 C587.5,531.2 590,531.8 593.8,532.4 C597.6,533 602.3,533.5 607,533.9 C611.7,534.2 616.4,534.5 622.1,534.5 C627.8,534.5 634.7,534.1 641,533.9 C647.3,533.7 653.5,533.5 659.8,533.4 C666.1,533.2 673,533.1 678.6,533 C684.2,532.9 689.1,532.9 693.7,533 C698.4,533.1 704.4,533.8 706.5,533.9" fill="none" stroke="#000" stroke-width="3.0" stroke-linejoin="round" stroke-linecap="round"/>
<path d="M434.4,603.3 L435.9,608.4 L437.4,605.9 L438.9,603.1 L440.4,602.5 L441.9,603.6 L443.4,604.4 L444.9,601.2 L446.4,600.7 L447.9,595.8 L449.4,597.6 L450.9,597.1 L452.4,595.7 L453.9,597 L455.4,598.5 L456.9,597.1 L458.4,592.7 L459.9,594.7 L461.4,591.8 L462.9,590.9 L464.4,589.2 L465.9,590 L467.4,590 L468.9,588.9 L470.4,587.4 L471.9,586.6 L473.4,585.7 L474.9,587.1 L476.4,585.1 L477.9,584.7 L479.4,584.1 L480.9,582.9 L482.4,582.9 L483.9,580.8 L485.4,582.5 L486.9,583 L488.4,581.7 L489.9,583.6 L491.4,580.5 L492.9,581.2 L494.4,581 L495.9,579.2 L497.4,578.7 L498.9,579.8 L500.4,578.8 L501.9,578.4 L503.4,579.6 L504.9,578 L506.4,574.5 L507.9,574.3 L509.4,576.2 L510.9,575.1 L512.4,573.1 L513.9,570.8 L515.4,573 L516.9,575.2 L518.4,571.7 L519.9,568.9 L521.4,571.6 L522.9,570.9 L524.4,570.7 L525.9,570.5 L527.4,569.3 L528.9,570.6 L530.4,571.6 L531.9,570.9 L533.4,569.3 L534.9,570.9 L536.4,569.9 L537.9,570.5 L539.4,568.5 L540.9,570 L542.4,570.7 L543.9,571.7 L545.4,570.2 L546.9,570.4 L548.4,569.2 L549.9,571 L551.4,571.5 L552.9,572.3 L554.4,570.6 L555.9,568.9 L557.4,570.2 L558.9,570.8 L560.4,570.5 L561.9,572.6 L563.4,574.1 L564.9,574.2 L566.4,575.2 L567.9,574.6 L569.4,572.5 L570.9,572.4 L572.4,572.8 L573.9,574.5 L575.4,575.5 L576.9,575.1 L578.4,576.5 L579.9,574.6 L581.4,575.2 L582.9,577.9 L584.4,577.6 L585.9,578.7 L587.4,575.1 L588.9,574.4 L590.4,575.6 L591.9,578.9 L593.4,581.2 L594.9,579 L596.4,577.8 L597.9,577.6 L599.4,577.8 L600.9,580.1 L602.4,579.8 L603.9,583 L605.4,582.6 L606.9,580.7 L608.4,581.3 L609.9,581.1 L611.4,582.4 L612.9,583.1 L614.4,581.6 L615.9,582.9 L617.4,583 L618.9,582.1 L620.4,582.4 L621.9,583.1 L623.4,581.9 L624.9,580.9 L626.4,583.3 L627.9,582.3 L629.4,581 L630.9,582 L632.4,579.6 L633.9,580.9 L635.4,579.3 L636.9,579.9 L638.4,578 L639.9,578.8 L641.4,581.3 L642.9,580.4 L644.4,578.4 L645.9,582 L647.4,579.6 L648.9,581.8 L650.4,579.5 L651.9,577.1 L653.4,581.1 L654.9,579 L656.4,579.9 L657.9,580.8 L659.4,577.2 L660.9,577.9 L662.4,577 L663.9,578.4 L665.4,577.8 L666.9,575.6 L668.4,576.7 L669.9,578.1 L671.4,576.8 L672.9,577.6 L674.4,576.1 L675.9,576.2 L677.4,576.7 L678.9,576.5 L680.4,578 L681.9,578 L683.4,577.8 L684.9,577.5 L686.4,576.5 L687.9,574.1 L689.4,576.6 L690.9,578.4 L692.4,576.8 L693.9,575.6 L695.4,575.6 L696.9,577.5 L698.4,576.9 L699.9,574.8 L701.4,575.4 L702.9,574.7 L704.4,575.4 L705.9,574.7" fill="none" stroke="#a6a6a6" stroke-width="4.2" stroke-linejoin="round" stroke-linecap="round"/>
<path d="M434.4,597.6 C436,597.3 439.1,596.7 443.8,595.7 C448.5,594.7 456.4,593.1 462.7,591.4 C469,589.7 475.2,587.6 481.5,585.7 C487.8,583.8 494.1,582 500.4,580.1 C506.7,578.2 513.9,575.8 519.2,574.4 C524.5,573 528,572.2 532.4,571.6 C536.8,571 541.5,570.6 545.6,570.5 C549.7,570.4 553.7,570.8 556.9,571.2 C560.1,571.6 562,572.7 565,573.1 C568,573.5 571.8,573.4 575,573.9 C578.2,574.4 581.3,575.5 584.4,576.3 C587.5,577.1 590,578 593.8,578.8 C597.6,579.6 602.3,580.5 607,581 C611.7,581.5 617.4,581.9 622.1,582 C626.8,582.1 630.6,581.8 635.3,581.4 C640,581 645.4,580.1 650.4,579.5 C655.4,578.9 660.4,578.2 665.4,577.6 C670.4,577 676.1,576.3 680.5,575.9 C684.9,575.5 687.5,575.3 691.8,575.4 C696.1,575.5 704,576.1 706.5,576.3" fill="none" stroke="#000" stroke-width="3.0" stroke-linejoin="round" stroke-linecap="round"/>
<text x="528" y="440.3" class="lb">cis</text>
<text x="520.5" y="494" class="lb">trans</text>
<text x="530.3" y="553.1" class="lb">cis</text>
<text x="521" y="607.8" class="lb">trans</text>
<text x="652" y="444.4" class="lb">t1</text>
<text x="652.6" y="496.5" class="lb">t2</text>
<text x="655" y="556.2" class="lb">t3</text>
<text x="655" y="608.3" class="lb">t4</text>
</g>
<g id="panel-d">
<text transform="translate(122.5,403.4) scale(1.05,1)" class="pn">d</text>
<rect x="56" y="470.4" width="304.6" height="31.5" fill="#a8dde2" stroke="#1a1a1a" stroke-width="1.5"/>
<rect x="57.6" y="620.1" width="304.8" height="31.3" fill="#a8dde2" stroke="#1a1a1a" stroke-width="1.5"/>
<text transform="translate(64.3,533.2) scale(1.06,1)" class="dl">cis</text>
<text transform="translate(52,688) scale(1.06,1)" class="dl">trans</text>
<path d="M98.1,468 C97.9,467.6 97.5,467.1 97,465.9 C96.5,464.6 95.7,461.6 95,460.5 C94.3,459.4 93.5,460.2 93,459.1 C92.5,458 92.6,455.6 92.3,453.8 C92,452 91.8,450.4 91,448.4 C90.2,446.4 88.8,443.4 87.6,441.7 C86.4,440 85,438.8 83.6,438.3 C82.2,437.9 80.9,439.4 79.3,439 C77.7,438.6 76.2,437.1 74.2,436 C72.2,434.9 69.8,433.5 67.5,432.3 C65.2,431.1 61.3,429.5 60.1,428.9" fill="none" stroke="#0c0c0c" stroke-width="2.3" stroke-linejoin="round" stroke-linecap="round"/>
<path d="M98.5,468 C98.7,467.6 99.4,467.4 99.7,465.9 C100,464.4 100.2,461.1 100.4,459.1 C100.6,457.1 100.7,456 100.8,453.8 C100.9,451.6 101.2,449.1 101.3,445.7 C101.4,442.3 101.7,436.4 101.5,433.3 C101.3,430.2 101,429.1 100.4,426.9 C99.8,424.7 98.8,422.2 97.7,420.2 C96.6,418.2 94.9,415.8 93.7,414.8 C92.5,413.9 91.3,413.6 90.3,414.5 C89.3,415.4 88,419.2 87.6,420.2" fill="none" stroke="#0c0c0c" stroke-width="2.3" stroke-linejoin="round" stroke-linecap="round"/>
<path d="M134.1,468 C133.6,467.4 131.9,465.5 130.8,464.5 C129.7,463.5 128.1,463.6 127.4,461.8 C126.7,460 127,456.2 126.7,453.8 C126.4,451.4 125.9,449.3 125.4,447.3 C124.9,445.3 124.5,443.6 123.8,441.7 C123.1,439.8 121.8,438.5 121.3,436 C120.8,433.5 120.7,429.4 120.7,426.9 C120.7,424.4 120.8,422.9 121.2,421 C121.6,419.1 122.6,416.4 122.9,415.5" fill="none" stroke="#0c0c0c" stroke-width="2.3" stroke-linejoin="round" stroke-linecap="round"/>
<path d="M134.6,468 C134.8,467.6 135.3,467.6 135.5,465.9 C135.7,464.2 135.3,460.2 135.5,457.8 C135.7,455.4 136,452.9 136.8,451.7 C137.6,450.5 139,450.5 140.2,450.4 C141.4,450.3 143.2,450.1 144.2,451.1 C145.2,452.1 145.8,454.5 146.2,456.5 C146.6,458.5 146.4,461.5 146.9,463.2 C147.4,464.9 148,466.2 149.3,466.9 C150.6,467.6 153.6,467.3 154.9,467.2 C156.2,467.1 155.9,466.9 157,466.5 C158.1,466.1 160.9,465.7 161.4,464.5 C161.9,463.3 160.5,460.9 160.1,459.1 C159.7,457.3 159.3,455.8 159,453.8 C158.7,451.8 158.4,448.1 158.3,447" fill="none" stroke="#0c0c0c" stroke-width="2.3" stroke-linejoin="round" stroke-linecap="round"/>
<path d="M196.9,468 C196.6,467.6 195.9,467 195.3,465.9 C194.7,464.8 194,462.8 193.3,461.2 C192.6,459.6 192,458.3 191.2,456.5 C190.4,454.7 189.3,452.3 188.5,450.4 C187.7,448.5 187.4,446.4 186.5,445 C185.6,443.6 184.9,442.4 183.2,441.7 C181.5,441 178.4,441.3 176.5,440.6 C174.6,439.9 173.7,438.7 171.7,437.6 C169.7,436.6 166.8,435.4 164.4,434.3 C162,433.2 158.2,431.5 157,430.9" fill="none" stroke="#0c0c0c" stroke-width="2.3" stroke-linejoin="round" stroke-linecap="round"/>
<path d="M197.5,468 C197.8,467.6 198.8,467.4 199.3,465.9 C199.8,464.4 200.2,461.1 200.6,459.1 C201,457.1 201.4,456.1 202,453.8 C202.6,451.5 203.3,447.5 204,445.4 C204.7,443.3 205.2,442.2 206,441 C206.8,439.8 207.6,439 208.7,438.3 C209.8,437.6 211.3,437.3 212.8,436.6 C214.3,435.9 215.7,435.6 217.5,434.3 C219.3,433 221.5,430.5 223.5,428.9 C225.5,427.3 228.6,425.6 229.6,424.9" fill="none" stroke="#0c0c0c" stroke-width="2.3" stroke-linejoin="round" stroke-linecap="round"/>
<path d="M255.4,468 C255.1,467.6 254.3,467.4 253.8,465.9 C253.3,464.4 252.9,461 252.4,459.1 C251.9,457.2 252,455.4 251.1,454.4 C250.2,453.4 248.5,453.1 247,453.1 C245.5,453.1 243.4,453.4 242.3,454.4 C241.2,455.4 240.7,457.4 240.3,459.1 C239.9,460.8 240.8,463.1 240,464.5 C239.2,465.9 237.2,466.4 235.6,467.2 C234,468 231.9,469.7 230.6,469.5 C229.3,469.3 228.4,467.4 227.6,465.9 C226.8,464.4 226.2,462.9 225.8,460.5 C225.5,458.1 225.6,453.2 225.5,451.7" fill="none" stroke="#0c0c0c" stroke-width="2.3" stroke-linejoin="round" stroke-linecap="round"/>
<path d="M256.4,468 C256.5,467.6 256.9,467.6 257.1,465.9 C257.3,464.2 257.5,460.7 257.8,457.8 C258.1,454.9 258.8,451.6 258.9,448.4 C259,445.1 258.5,441.2 258.5,438.3 C258.5,435.4 258.7,432.6 259.1,430.9 C259.6,429.2 259.9,428.7 261.2,428.2 C262.5,427.7 265.3,427.4 267.2,428 C269.1,428.6 270.8,430.6 272.6,431.6 C274.4,432.7 276.4,433.8 278,434.3 C279.6,434.9 280.7,433.9 282,434.9 C283.3,435.9 284.7,438.4 286,440.3 C287.3,442.2 289.3,445.4 290,446.4" fill="none" stroke="#0c0c0c" stroke-width="2.3" stroke-linejoin="round" stroke-linecap="round"/>
<path d="M311.5,468 C311.1,467.6 309.7,467.4 308.9,465.9 C308.1,464.4 307.5,461.2 306.9,459.1 C306.3,457 305.9,455 305.5,453.1 C305.1,451.2 304.9,449.6 304.5,447.7 C304.1,445.8 303.1,443.7 303.1,441.7 C303.1,439.7 304,437.6 304.5,435.6 C305,433.6 305.5,431.6 306.2,429.6 C306.9,427.6 307.9,425.3 308.9,423.5 C309.9,421.7 311.3,420.4 312,418.8 C312.7,417.2 313.1,414.9 313.3,414.1" fill="none" stroke="#0c0c0c" stroke-width="2.3" stroke-linejoin="round" stroke-linecap="round"/>
<path d="M312.8,468 C313.1,467.6 313.8,467.4 314.3,465.9 C314.8,464.4 315.1,460.9 315.6,459.1 C316.2,457.4 316.4,456.1 317.6,455.4 C318.8,454.7 321.5,454.7 323,454.8 C324.5,454.9 325.5,454.6 326.4,455.8 C327.3,457 327.8,460 328.4,461.8 C328.9,463.6 329.3,465.2 329.7,466.5 C330.1,467.8 329.9,469.4 330.8,469.5 C331.7,469.6 333.5,468 335.1,467.2 C336.7,466.4 339.8,466.4 340.5,464.8 C341.2,463.2 339.8,460.1 339.1,457.8 C338.4,455.5 337.7,453.2 336.5,451.1 C335.3,449 332.5,446 331.7,445" fill="none" stroke="#0c0c0c" stroke-width="2.3" stroke-linejoin="round" stroke-linecap="round"/>
<path d="M110,618 C109.8,617.5 109.5,616.6 108.5,615.2 C107.5,613.8 104.9,611.9 103.8,609.8 C102.7,607.7 102.6,604.9 101.7,602.4 C100.8,599.9 99.9,597 98.4,595 C97,593 95,591.5 93,590.3 C91,589.1 88.6,588.4 86.6,587.6 C84.6,586.8 82.8,586.5 80.9,585.6 C79.1,584.7 77.4,583.2 75.5,582.3 C73.6,581.4 70.5,580.6 69.5,580.2" fill="none" stroke="#0c0c0c" stroke-width="2.3" stroke-linejoin="round" stroke-linecap="round"/>
<path d="M110.1,618 C110.1,617.5 110,617.1 110.1,615.2 C110.2,613.3 110.8,609.5 110.8,606.5 C110.8,603.5 110.3,600.5 110.1,597 C109.9,593.5 109.1,588.1 109.5,585.2 C109.9,582.3 111.5,580.9 112.5,579.6 C113.5,578.3 114.5,579 115.2,577.6 C115.9,576.2 116,573.4 116.5,571.5 C117,569.6 118.2,567 118.5,566.1" fill="none" stroke="#0c0c0c" stroke-width="2.3" stroke-linejoin="round" stroke-linecap="round"/>
<path d="M179,618 C178.7,617.6 178.2,617.1 177,615.6 C175.8,614.1 173.1,611.1 171.7,609.1 C170.2,607.1 169.4,605.4 168.3,603.8 C167.2,602.2 166.3,601.3 165.3,599.5 C164.3,597.7 163.1,595 162.3,593 C161.5,591 160.9,589.6 160.6,587.6 C160.3,585.6 160.3,583.4 160.6,580.9 C160.9,578.4 162,575.4 162.3,572.8 C162.6,570.2 162.3,566.7 162.3,565.5" fill="none" stroke="#0c0c0c" stroke-width="2.3" stroke-linejoin="round" stroke-linecap="round"/>
<path d="M181,618 C181.2,617.6 182.4,617.3 182.4,615.6 C182.4,613.9 181.5,610 181.1,607.8 C180.7,605.6 180.3,604.2 180,602.4 C179.7,600.6 179.3,599.9 179.1,597 C178.9,594.1 178.6,588.3 178.8,585.2 C179,582.1 179.6,580.5 180.4,578.2 C181.2,575.9 182.6,573.5 183.8,571.5 C185,569.5 186.8,567.7 187.8,566.1 C188.8,564.5 189.5,562.8 189.8,562.1" fill="none" stroke="#0c0c0c" stroke-width="2.3" stroke-linejoin="round" stroke-linecap="round"/>
<path d="M224,618 C223.8,617.5 223.6,616.9 222.7,615.2 C221.8,613.5 219.9,610.1 218.7,607.8 C217.5,605.4 216.4,603.4 215.3,601.1 C214.2,598.8 212.9,597.2 212.3,594.1 C211.8,591 211.7,585.6 212,582.3 C212.3,579 213.4,576.9 214,574.2 C214.6,571.5 214.7,568 215.3,566.1 C215.9,564.2 216.7,563.6 217.4,562.8 C218.2,562 219.4,561.6 219.8,561.4" fill="none" stroke="#0c0c0c" stroke-width="2.3" stroke-linejoin="round" stroke-linecap="round"/>
<path d="M226,618 C226.3,617.5 227,617.1 227.6,615.2 C228.2,613.3 229,609.1 229.6,606.5 C230.2,603.9 230.9,601.6 231.2,599.7 C231.5,597.8 231.5,597.8 231.6,595 C231.7,592.2 231.8,586.1 231.6,582.9 C231.4,579.6 230.7,578.1 230.2,575.5 C229.7,572.9 228.9,570 228.5,567.5 C228.1,565 227.9,561.9 227.8,560.8" fill="none" stroke="#0c0c0c" stroke-width="2.3" stroke-linejoin="round" stroke-linecap="round"/>
<path d="M278,618 C277.8,617.5 277.3,616.5 276.6,615.2 C275.9,614 274.2,612 273.7,610.5 C273.1,609 273.1,607.9 273.3,606.5 C273.5,605.1 274.4,604.9 275,602.2 C275.6,599.5 276.2,593.2 276.6,590.1 C277,587 277.8,585.5 277.3,583.6 C276.9,581.7 275.4,580.7 273.9,578.9 C272.4,577.1 270.1,574.2 268.5,572.8 C266.9,571.4 265.4,570.6 264.2,570.4 C263,570.2 262.3,570.6 261.2,571.5 C260.1,572.4 258.1,574.8 257.5,575.5" fill="none" stroke="#0c0c0c" stroke-width="2.3" stroke-linejoin="round" stroke-linecap="round"/>
<path d="M279,618 C279.2,617.5 279.3,616.9 280,615.2 C280.7,613.5 282.4,610 283.3,607.8 C284.2,605.5 284.7,603.7 285.3,601.7 C285.9,599.7 286.5,598.8 286.7,595.7 C286.9,592.6 286.4,586.7 286.7,583.3 C287,579.9 287.3,577.8 288.7,575.5 C290.1,573.2 292.8,571.3 294.8,569.5 C296.8,567.7 299.5,565 300.8,564.8 C302.1,564.6 302.3,567 302.8,568.1 C303.3,569.2 303.7,570.9 303.9,571.5" fill="none" stroke="#0c0c0c" stroke-width="2.3" stroke-linejoin="round" stroke-linecap="round"/>
<path d="M335.3,618 C335.3,617.4 335.7,616.2 335.1,614.5 C334.5,612.8 332.6,610 331.7,607.8 C330.8,605.6 330.3,603.7 330,601.1 C329.7,598.5 330.4,595.7 330,592.3 C329.6,588.9 328.5,583.5 327.7,580.6 C326.9,577.7 326.4,576.9 325,574.9 C323.6,572.9 321,570.4 319,568.8 C317,567.2 314.1,565.2 312.9,565.1 C311.7,565 311.9,567 311.6,568.1 C311.3,569.2 311,570.9 310.9,571.5" fill="none" stroke="#0c0c0c" stroke-width="2.3" stroke-linejoin="round" stroke-linecap="round"/>
<path d="M336,618 C336.2,617.4 336.1,616.2 337.1,614.5 C338.1,612.8 340.5,610 341.8,607.8 C343.1,605.6 344.8,603.7 345.2,601.1 C345.6,598.5 345.1,595.7 344.5,592.3 C343.9,588.9 342.4,583.6 341.8,580.6 C341.2,577.6 341.9,576.2 341.2,574.2 C340.5,572.2 338.8,570.6 337.8,568.8 C336.8,567 335.6,564.3 335.1,563.4" fill="none" stroke="#0c0c0c" stroke-width="2.3" stroke-linejoin="round" stroke-linecap="round"/>
<ellipse cx="91" cy="448.4" rx="3.8" ry="3.3" fill="#7e7e7e" stroke="#1a1a1a" stroke-width="1.3"/>
<ellipse cx="79.3" cy="439" rx="3.8" ry="3.3" fill="#7e7e7e" stroke="#1a1a1a" stroke-width="1.3"/>
<ellipse cx="101.3" cy="445.7" rx="3.8" ry="3.3" fill="#7e7e7e" stroke="#1a1a1a" stroke-width="1.3"/>
<ellipse cx="101.5" cy="433.3" rx="3.8" ry="3.3" fill="#7e7e7e" stroke="#1a1a1a" stroke-width="1.3"/>
<ellipse cx="98.1" cy="469.9" rx="5.1" ry="4.7" fill="#7e7e7e" stroke="#1a1a1a" stroke-width="1.3"/>
<ellipse cx="125.4" cy="447.3" rx="3.8" ry="3.3" fill="#7e7e7e" stroke="#1a1a1a" stroke-width="1.3"/>
<ellipse cx="121.3" cy="436" rx="3.8" ry="3.3" fill="#7e7e7e" stroke="#1a1a1a" stroke-width="1.3"/>
<ellipse cx="149.3" cy="466.9" rx="3.8" ry="3.3" fill="#7e7e7e" stroke="#1a1a1a" stroke-width="1.3"/>
<ellipse cx="161.4" cy="464.5" rx="3.8" ry="3.3" fill="#7e7e7e" stroke="#1a1a1a" stroke-width="1.3"/>
<ellipse cx="134.2" cy="470" rx="5.1" ry="4.7" fill="#7e7e7e" stroke="#1a1a1a" stroke-width="1.3"/>
<ellipse cx="188.5" cy="450.4" rx="3.8" ry="3.3" fill="#7e7e7e" stroke="#1a1a1a" stroke-width="1.3"/>
<ellipse cx="176.5" cy="440.6" rx="3.8" ry="3.3" fill="#7e7e7e" stroke="#1a1a1a" stroke-width="1.3"/>
<ellipse cx="204" cy="445.4" rx="3.8" ry="3.3" fill="#7e7e7e" stroke="#1a1a1a" stroke-width="1.3"/>
<ellipse cx="212.8" cy="436.6" rx="3.8" ry="3.3" fill="#7e7e7e" stroke="#1a1a1a" stroke-width="1.3"/>
<ellipse cx="196.9" cy="470.2" rx="5.1" ry="4.7" fill="#7e7e7e" stroke="#1a1a1a" stroke-width="1.3"/>
<ellipse cx="240" cy="464.5" rx="3.8" ry="3.3" fill="#7e7e7e" stroke="#1a1a1a" stroke-width="1.3"/>
<ellipse cx="230.6" cy="469.5" rx="3.8" ry="3.3" fill="#7e7e7e" stroke="#1a1a1a" stroke-width="1.3"/>
<ellipse cx="258.5" cy="438.3" rx="3.8" ry="3.3" fill="#7e7e7e" stroke="#1a1a1a" stroke-width="1.3"/>
<ellipse cx="267.2" cy="428" rx="3.8" ry="3.3" fill="#7e7e7e" stroke="#1a1a1a" stroke-width="1.3"/>
<ellipse cx="255.8" cy="469.4" rx="5.1" ry="4.7" fill="#7e7e7e" stroke="#1a1a1a" stroke-width="1.3"/>
<ellipse cx="304.5" cy="447.7" rx="3.8" ry="3.3" fill="#7e7e7e" stroke="#1a1a1a" stroke-width="1.3"/>
<ellipse cx="304.5" cy="435.6" rx="3.8" ry="3.3" fill="#7e7e7e" stroke="#1a1a1a" stroke-width="1.3"/>
<ellipse cx="330.8" cy="469.5" rx="3.8" ry="3.3" fill="#7e7e7e" stroke="#1a1a1a" stroke-width="1.3"/>
<ellipse cx="340.5" cy="464.8" rx="3.8" ry="3.3" fill="#7e7e7e" stroke="#1a1a1a" stroke-width="1.3"/>
<ellipse cx="312" cy="469.9" rx="5.1" ry="4.7" fill="#7e7e7e" stroke="#1a1a1a" stroke-width="1.3"/>
<ellipse cx="98.4" cy="595" rx="3.8" ry="3.3" fill="#7e7e7e" stroke="#1a1a1a" stroke-width="1.3"/>
<ellipse cx="86.6" cy="587.6" rx="3.8" ry="3.3" fill="#7e7e7e" stroke="#1a1a1a" stroke-width="1.3"/>
<ellipse cx="110.1" cy="597" rx="3.8" ry="3.3" fill="#7e7e7e" stroke="#1a1a1a" stroke-width="1.3"/>
<ellipse cx="109.5" cy="585.2" rx="3.8" ry="3.3" fill="#7e7e7e" stroke="#1a1a1a" stroke-width="1.3"/>
<ellipse cx="110.1" cy="619.6" rx="5.1" ry="4.7" fill="#7e7e7e" stroke="#1a1a1a" stroke-width="1.3"/>
<ellipse cx="165.3" cy="599.5" rx="3.8" ry="3.3" fill="#7e7e7e" stroke="#1a1a1a" stroke-width="1.3"/>
<ellipse cx="160.6" cy="587.6" rx="3.8" ry="3.3" fill="#7e7e7e" stroke="#1a1a1a" stroke-width="1.3"/>
<ellipse cx="179.1" cy="597" rx="3.8" ry="3.3" fill="#7e7e7e" stroke="#1a1a1a" stroke-width="1.3"/>
<ellipse cx="178.8" cy="585.2" rx="3.8" ry="3.3" fill="#7e7e7e" stroke="#1a1a1a" stroke-width="1.3"/>
<ellipse cx="179.7" cy="619.6" rx="5.1" ry="4.7" fill="#7e7e7e" stroke="#1a1a1a" stroke-width="1.3"/>
<ellipse cx="212.3" cy="594.1" rx="3.8" ry="3.3" fill="#7e7e7e" stroke="#1a1a1a" stroke-width="1.3"/>
<ellipse cx="212" cy="582.3" rx="3.8" ry="3.3" fill="#7e7e7e" stroke="#1a1a1a" stroke-width="1.3"/>
<ellipse cx="231.6" cy="595" rx="3.8" ry="3.3" fill="#7e7e7e" stroke="#1a1a1a" stroke-width="1.3"/>
<ellipse cx="231.6" cy="582.9" rx="3.8" ry="3.3" fill="#7e7e7e" stroke="#1a1a1a" stroke-width="1.3"/>
<ellipse cx="224.9" cy="619.2" rx="5.1" ry="4.7" fill="#7e7e7e" stroke="#1a1a1a" stroke-width="1.3"/>
<ellipse cx="275" cy="602.2" rx="3.8" ry="3.3" fill="#7e7e7e" stroke="#1a1a1a" stroke-width="1.3"/>
<ellipse cx="276.6" cy="590.1" rx="3.8" ry="3.3" fill="#7e7e7e" stroke="#1a1a1a" stroke-width="1.3"/>
<ellipse cx="286.7" cy="595.7" rx="3.8" ry="3.3" fill="#7e7e7e" stroke="#1a1a1a" stroke-width="1.3"/>
<ellipse cx="286.7" cy="583.3" rx="3.8" ry="3.3" fill="#7e7e7e" stroke="#1a1a1a" stroke-width="1.3"/>
<ellipse cx="278.6" cy="619.6" rx="5.1" ry="4.7" fill="#7e7e7e" stroke="#1a1a1a" stroke-width="1.3"/>
<ellipse cx="330" cy="592.3" rx="3.8" ry="3.3" fill="#7e7e7e" stroke="#1a1a1a" stroke-width="1.3"/>
<ellipse cx="327.7" cy="580.6" rx="3.8" ry="3.3" fill="#7e7e7e" stroke="#1a1a1a" stroke-width="1.3"/>
<ellipse cx="344.5" cy="592.3" rx="3.8" ry="3.3" fill="#7e7e7e" stroke="#1a1a1a" stroke-width="1.3"/>
<ellipse cx="341.8" cy="580.6" rx="3.8" ry="3.3" fill="#7e7e7e" stroke="#1a1a1a" stroke-width="1.3"/>
<ellipse cx="335.4" cy="619.2" rx="5.1" ry="4.7" fill="#7e7e7e" stroke="#1a1a1a" stroke-width="1.3"/>
</g>
</svg>
</body></html>
